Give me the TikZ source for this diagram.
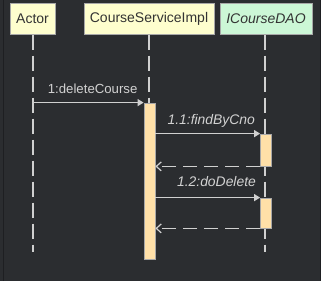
\documentclass[tikz,border=0pt]{standalone}
\usepackage{fontspec}
\setmainfont{Liberation Sans}
\usetikzlibrary{arrows.meta}
\definecolor{bg}{HTML}{2B2D30}
\definecolor{edge}{HTML}{1E1F22}
\definecolor{headyellow}{HTML}{FEFECE}
\definecolor{headgreen}{HTML}{CCF7D6}
\definecolor{headborder}{HTML}{A8A8A8}
\definecolor{headtext}{HTML}{333333}
\definecolor{actfill}{HTML}{FFE0A8}
\definecolor{lineclr}{HTML}{D0D0D0}
\definecolor{labelclr}{HTML}{D2D2D2}
\tikzset{
  headbox/.style={draw=headborder, line width=1pt, fill=headyellow, text=headtext,
    minimum height=31pt, inner sep=0pt, font=\fontsize{14}{16}\selectfont},
  lifeline/.style={draw=lineclr, line width=1.3pt, dash pattern=on 15pt off 6pt},
  activation/.style={draw=headborder, line width=0.8pt, fill=actfill, minimum width=11pt, inner sep=0pt},
  callmsg/.style={draw=lineclr, line width=1.2pt, -{Triangle[length=6pt,width=7pt]}},
  returnmsg/.style={draw=lineclr, line width=1.2pt, dash pattern=on 14pt off 7pt,
    -{Straight Barb[length=5pt,width=9pt,line width=1.2pt]}},
  msglabel/.style={text=labelclr, font=\fontsize{13.2}{15}\selectfont, inner sep=0pt, anchor=base east},
  italabel/.style={msglabel, font=\fontsize{13.9}{16}\selectfont\itshape}
}
\begin{document}
\begin{tikzpicture}[x=1pt,y=-1pt]
  % canvas
  \fill[bg] (0,0) rectangle (321,281);
  \useasboundingbox (0,0) rectangle (321,281);
  \draw[edge, line width=1pt] (3.5,0) -- (3.5,281);
  \draw[edge, line width=1pt] (320.5,0) -- (320.5,281);

  % participants
  \node[headbox, minimum width=45pt] (actor) at (32.5,18.5) {Actor};
  \node[headbox, minimum width=130pt] (svc) at (149,18.5) {CourseServiceImpl};
  \node[headbox, fill=headgreen, minimum width=92pt] (dao) at (266,18.5) {\itshape ICourseDAO};

  % lifeline ends
  \coordinate (actorEnd) at (33,252);
  \coordinate (svcEnd) at (149,252);
  \coordinate (daoEnd) at (265,252);

  \draw[lifeline] (actor.south -| actorEnd) -- (actorEnd);
  \draw[lifeline] (svc.south -| svcEnd) -- (svcEnd);
  \draw[lifeline] (dao.south -| daoEnd) -- (daoEnd);

  % activations
  \node[activation, minimum height=156pt] (svcAct) at (149.5,181) {};
  \node[activation, minimum height=32pt] (daoAct1) at (266,150) {};
  \node[activation, minimum height=30pt] (daoAct2) at (266,213) {};

  % messages
  \coordinate (m1start) at (actorEnd |- svcAct.north west);
  \draw[callmsg] (m1start) -- (svcAct.north west);
  \node[msglabel] at ([xshift=-6pt,yshift=9pt]svcAct.north west) {1:deleteCourse};

  \draw[callmsg] (svcAct.east |- daoAct1.north west) -- (daoAct1.north west);
  \node[italabel] at ([xshift=-5pt,yshift=9pt]daoAct1.north west) {1.1:findByCno};
  \draw[returnmsg] (daoAct1.south west) -- (svcAct.east |- daoAct1.south west);

  \draw[callmsg] (svcAct.east |- daoAct2.north west) -- (daoAct2.north west);
  \node[italabel] at ([xshift=-4pt,yshift=11pt]daoAct2.north west) {1.2:doDelete};
  \draw[returnmsg] (daoAct2.south west) -- (svcAct.east |- daoAct2.south west);
\end{tikzpicture}
\end{document}
